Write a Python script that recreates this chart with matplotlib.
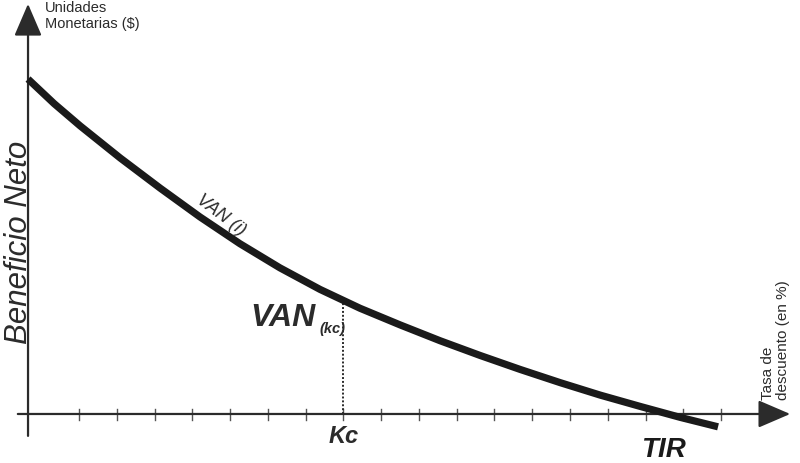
import matplotlib
matplotlib.use("Agg")
import matplotlib.pyplot as plt

# curve VAN(i): tasa de descuento vs beneficio neto
tasa = [-0.35, 0.34, 1.03, 2.09, 3.15, 4.20, 5.26, 6.32, 7.38, 8.44, 9.50,
        10.56, 11.62, 12.68, 13.74, 14.80, 15.86, 16.92, 17.92]
van = [8.87, 8.22, 7.63, 6.78, 5.98, 5.22, 4.51, 3.87, 3.30, 2.80, 2.36,
       1.94, 1.55, 1.18, 0.83, 0.50, 0.20, -0.09, -0.34]

ticks_x = list(range(1, 19))
kc = 8
van_kc = 3.01
tir = 16.57

plt.rcParams['font.family'] = ['Liberation Sans', 'DejaVu Sans']

fig = plt.figure(figsize=(8, 4.64), dpi=100)
ax = fig.add_axes([0, 0, 1, 1])
ax.set_xlim(-1.092, 20.09)
ax.set_ylim(-1.298, 10.99)
ax.axis('off')

axis_col = '#2b2b2b'

# axes with arrows
ax.annotate('', xy=(19.83, 0), xytext=(-0.62, 0),
            arrowprops=dict(arrowstyle='-|>,head_length=1.0,head_width=0.43',
                            mutation_scale=20, color=axis_col, lw=1.6,
                            shrinkA=0, shrinkB=0))
ax.annotate('', xy=(-0.35, 10.86), xytext=(-0.35, -0.58),
            arrowprops=dict(arrowstyle='-|>,head_length=1.0,head_width=0.43',
                            mutation_scale=20, color=axis_col, lw=1.6,
                            shrinkA=0, shrinkB=0))

# tick marks
for t in ticks_x:
    ax.plot([t, t], [-0.17, 0.12], color='#555555', lw=1.0)

# curve
ax.plot(tasa, van, color='#1a1a1a', lw=5.2, solid_capstyle='butt',
        solid_joinstyle='round', zorder=5)

# Kc dotted line
ax.plot([kc, kc], [0, van_kc], color='#2b2b2b', lw=1.4, linestyle=(0, (1, 1)))

# texts
ax.text(kc, -0.58, 'Kc', fontsize=17, fontweight='bold', style='italic',
        ha='center', va='center', color='#2b2b2b')
ax.text(tir - 0.1, -0.92, 'TIR', fontsize=20, fontweight='bold', style='italic',
        ha='center', va='center', color='#1a1a1a')
ax.text(7.27, 2.36, 'VAN', fontsize=23, fontweight='bold', style='italic',
        ha='right', va='baseline', color='#2b2b2b')
ax.text(7.36, 2.17, '(kc)', fontsize=10.5, fontweight='bold', style='italic',
        ha='left', va='baseline', color='#2b2b2b')
ax.text(4.76, 5.28, 'VAN (i)', fontsize=13, style='italic', rotation=-37,
        ha='center', va='center', rotation_mode='anchor', color='#2b2b2b')
ax.text(-0.6, 4.58, 'Beneficio Neto', fontsize=22.5, style='italic',
        rotation=90, ha='center', va='center', color='#2b2b2b')
ax.text(0.1, 10.97, 'Unidades\nMonetarias ($)', fontsize=10.5,
        ha='left', va='top', linespacing=1.2, color='#2b2b2b')
ax.text(19.45, 0.4, 'Tasa de\ndescuento (en %)', fontsize=11,
        rotation=90, rotation_mode='anchor', ha='left', va='center',
        linespacing=1.1, color='#2b2b2b')

fig.savefig('out.png', dpi=100)
